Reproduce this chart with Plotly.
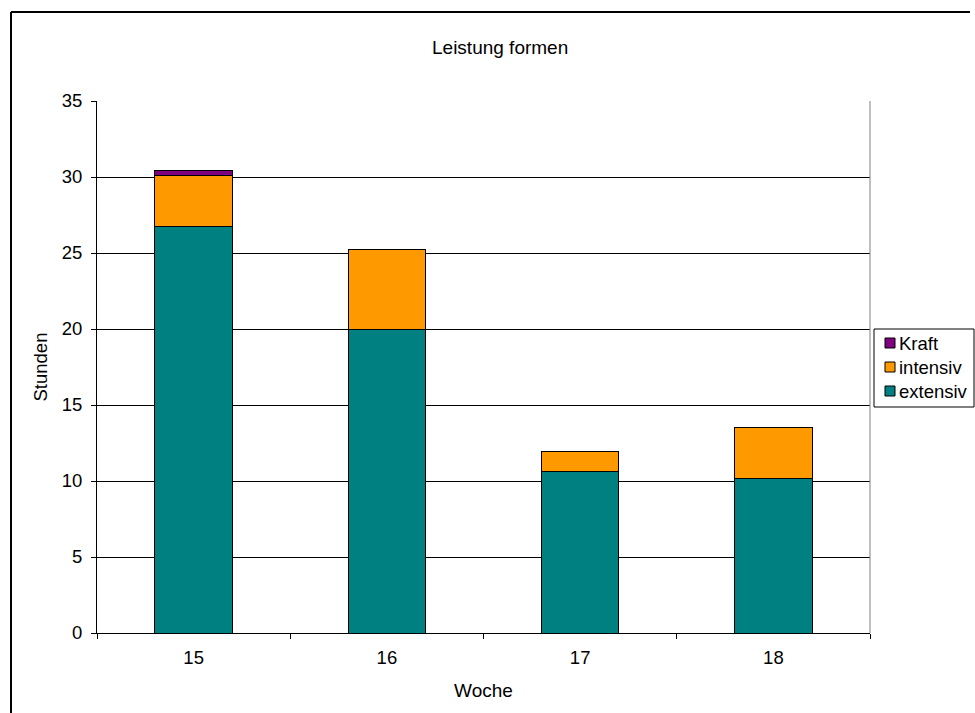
import plotly.graph_objects as go

weeks = ["15", "16", "17", "18"]
extensiv = [26.76, 20.0, 10.61, 10.15]
intensiv = [3.37, 5.2, 1.32, 3.38]
kraft = [0.29, 0.0, 0.0, 0.0]
y_ticks = [0, 5, 10, 15, 20, 25, 30, 35]
series_names = ["extensiv", "intensiv", "Kraft"]
series_colors = ["#008080", "#FF9900", "#800080"]

FONT = "Liberation Sans, Arial, sans-serif"
FS = 18.5

fig = go.Figure()
for name, vals, col in zip(series_names, [extensiv, intensiv, kraft], series_colors):
    fig.add_trace(go.Bar(x=weeks, y=vals, name=name, marker_color=col,
                         marker_line=dict(color="black", width=1),
                         showlegend=False))

W, H = 975, 713
L, R, T, B = 97, 105, 101, 80
pw, ph = W - L - R, H - T - B

def px(x):
    return (x - L) / pw

def py(y):
    return (H - B - y) / ph

shapes = [
    dict(type="line", xref="paper", yref="paper", x0=1, x1=1, y0=0, y1=1,
         line=dict(color="#808080", width=1)),
    # outer chart frame (cropped on the right and bottom)
    dict(type="line", xref="paper", yref="paper", x0=px(11), x1=px(970),
         y0=py(12), y1=py(12), line=dict(color="black", width=2)),
    dict(type="line", xref="paper", yref="paper", x0=px(11), x1=px(11),
         y0=py(12), y1=py(730), line=dict(color="black", width=2)),
    # legend box
    dict(type="rect", xref="paper", yref="paper", x0=px(874), x1=px(974),
         y0=py(407), y1=py(329), line=dict(color="black", width=1),
         fillcolor="white"),
]
annotations = [dict(text="Leistung formen", x=px(500), y=py(47),
                    xref="paper", yref="paper", showarrow=False,
                    font=dict(size=19), xanchor="center", yanchor="middle")]

legend_rows = [343, 367, 391]
legend_items = list(zip(series_names, series_colors))[::-1]
for (name, col), yc in zip(legend_items, legend_rows):
    shapes.append(dict(type="rect", xref="paper", yref="paper",
                       x0=px(885), x1=px(895), y0=py(yc + 5), y1=py(yc - 5),
                       fillcolor=col, line=dict(color="black", width=1)))
    annotations.append(dict(text=name, x=px(897), y=py(yc), xref="paper",
                            yref="paper", showarrow=False, xanchor="left",
                            yanchor="middle", font=dict(size=FS)))

fig.update_layout(
    width=W, height=H,
    margin=dict(l=L, r=R, t=T, b=B),
    barmode="stack", bargap=0.6,
    paper_bgcolor="white", plot_bgcolor="white",
    font=dict(family=FONT, size=FS, color="black"),
    showlegend=False,
    xaxis=dict(type="category", tickson="boundaries", ticks="outside",
               ticklen=5, tickcolor="black", showline=True, linecolor="black",
               linewidth=1, showgrid=False, ticklabelstandoff=8,
               title=dict(text="Woche", font=dict(size=19), standoff=16),
               tickfont=dict(size=FS)),
    yaxis=dict(range=[0, 35], tickvals=y_ticks, ticks="outside", ticklen=5,
               tickcolor="black", showline=True, linecolor="black", linewidth=1,
               showgrid=True, gridcolor="black", gridwidth=1, zeroline=False,
               ticklabelstandoff=5,
               title=dict(text="Stunden", font=dict(size=FS), standoff=9),
               tickfont=dict(size=FS)),
    annotations=annotations,
    shapes=shapes,
)

fig.write_html("out.html")
